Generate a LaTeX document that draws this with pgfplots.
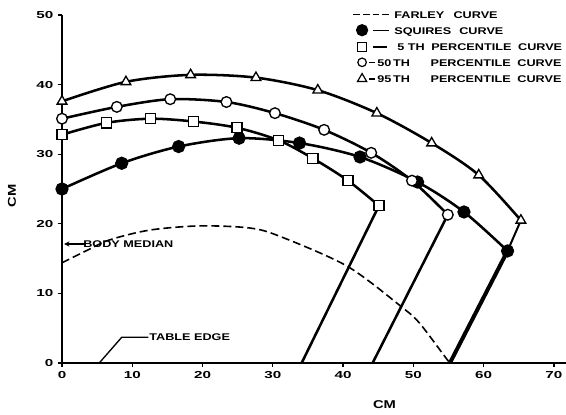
\documentclass[border=0pt]{standalone}
\usepackage{fontspec}
\setmainfont{Liberation Sans}[FakeStretch=1.3]
\newfontfamily\tickfont{Liberation Sans}[FakeStretch=1.5]
\usepackage{pgfplots}
\pgfplotsset{compat=1.18}
\usetikzlibrary{calc,arrows.meta}

\pgfplotstableread{
x y
0 14.4
3.6 16.2
6.8 17.7
12.5 19.1
19.6 19.7
26.7 19.4
31.0 18.2
40.6 13.9
48.4 8.0
50.9 5.7
54.5 0.9
55.2 0
}\farley

\pgfplotstableread{
x y
0 25.0
8.5 28.7
16.6 31.1
25.2 32.3
33.8 31.6
42.4 29.6
50.6 26.0
57.2 21.7
63.4 16.1
}\squires

\pgfplotstableread{
x y
0 32.8
6.3 34.5
12.6 35.1
18.7 34.7
24.9 33.8
30.8 32.0
35.7 29.4
40.7 26.2
45.1 22.6
}\fifth

\pgfplotstableread{
x y
0 35.1
7.8 36.8
15.4 37.9
23.4 37.5
30.3 35.9
37.3 33.5
44.0 30.2
49.8 26.2
54.9 21.3
}\fiftieth

\pgfplotstableread{
x y
0 37.6
9.1 40.4
18.3 41.4
27.6 41.0
36.4 39.2
44.8 35.9
52.6 31.6
59.3 27.0
65.3 20.5
}\ninetyfifth

\begin{document}
\begin{tikzpicture}
\begin{axis}[
  scale only axis, width=377.9pt, height=261pt,
  xmin=0, xmax=71.7, ymin=0, ymax=50,
  axis x line=bottom, axis y line=left,
  axis line style={-, line width=1.6pt},
  xtick={0,10,...,70}, ytick={0,10,...,50},
  tick align=outside, major tick length=3pt,
  tick style={line width=1pt, black},
  tick label style={font=\fontsize{7.6}{9}\selectfont\tickfont\bfseries},
  /pgf/number format/assume math mode=true,
  xlabel={CM}, ylabel={CM},
  label style={font=\fontsize{8.5}{10}\selectfont\bfseries},
  xlabel style={at={(rel axis cs:0.64,0)}, anchor=center, yshift=-31.5pt},
  ylabel style={at={(rel axis cs:0,0.48)}, anchor=center, yshift=37.5pt},
  clip=false,
  legend cell align=left,
  legend style={at={(0.574,1.014)}, anchor=north west, draw=none, fill=none,
    inner sep=0pt, row sep=4.3pt,
    font=\fontsize{7.3}{8}\selectfont\bfseries,
    nodes={inner sep=0pt, text height=6pt, text depth=0pt},
    /tikz/every even column/.append style={column sep=0pt},
    /tikz/every odd column/.append style={column sep=0pt}},
  every axis plot/.append style={line width=1.9pt, black},
]
\coordinate (o) at (axis cs:0,0);

\addplot[dash pattern=on 6pt off 3pt, line width=1.2pt, smooth,
  legend image code/.code={\path (-7pt,0) (23.25pt,0);
    \draw[line width=1.1pt, dash pattern=on 5pt off 2.2pt] (-6.5pt,0) -- (21.5pt,0);}]
  table[x=x,y=y] {\farley};
\addlegendentry{FARLEY\hspace{7pt}CURVE}

\addplot[smooth, tension=0.5, mark=*, mark size=4pt, mark options={solid, fill=black},
  legend image code/.code={\path (-7pt,0) (23.25pt,0);
    \draw[black, fill=black] (0,0) circle (3.6pt);
    \draw[line width=1pt] (8pt,0) -- (20pt,0);}]
  table[x=x,y=y] {\squires};
\addlegendentry{SQUIRES\hspace{6pt}CURVE}

\addplot[smooth, tension=0.5, mark=square*, mark size=3.8pt, mark options={solid, fill=white, line width=1pt},
  legend image code/.code={\path (-7pt,0) (23.25pt,0);
    \draw[line width=0.9pt, fill=white] (-3.2pt,-3.2pt) rectangle (3.2pt,3.2pt);
    \draw[line width=1pt] (8pt,0) -- (19pt,0);}]
  table[x=x,y=y] {\fifth};
\addlegendentry{\hspace*{2.25pt}5 TH\hspace{4.9pt}PERCENTILE\hspace{5pt}CURVE}

\addplot[smooth, tension=0.5, mark=*, mark size=4pt, mark options={solid, fill=white, line width=1pt},
  legend image code/.code={\path (-7pt,0) (23.25pt,0);
    \draw[line width=0.9pt, fill=white] (0,0) circle (3.2pt);
    \draw[line width=1pt] (5pt,0) -- (9.5pt,0);}]
  table[x=x,y=y] {\fiftieth};
\addlegendentry{\hspace*{-12.75pt}50\,TH\hspace{15.5pt}PERCENTILE\hspace{5pt}CURVE}

\addplot[smooth, tension=0.5, mark=triangle*, mark size=4.2pt, mark options={solid, fill=white, line width=1pt},
  legend image code/.code={\path (-7pt,0) (23.25pt,0);
    \draw[line width=0.9pt, fill=white] (90:4pt) -- (210:4pt) -- (330:4pt) -- cycle;
    \draw[line width=1pt] (5pt,0) -- (9.5pt,0);}]
  table[x=x,y=y] {\ninetyfifth};
\addlegendentry{\hspace*{-12.75pt}95\,TH\hspace{15.5pt}PERCENTILE\hspace{5pt}CURVE}

% connecting lines from curve ends to table edge
\addplot[forget plot, line width=1.9pt] coordinates {(45.1,22.6) (34.1,0)};
\addplot[forget plot, line width=1.9pt] coordinates {(54.9,21.3) (44.2,0)};
\addplot[forget plot, line width=1.5pt] coordinates {(65.3,20.5) (63.4,16.1)};
\addplot[forget plot, line width=3pt] coordinates {(63.4,16.1) (55.2,0)};

% annotations
\draw[-{Stealth[length=4pt,width=4pt]}, line width=1pt] (axis cs:3.4,17.1) -- (axis cs:0.3,17.1);
\node[anchor=west, inner sep=0pt, font=\fontsize{7.3}{8}\selectfont\bfseries] at (axis cs:3.0,17.1) {BODY\ MEDIAN};
\draw[line width=1pt] (axis cs:12.3,3.7) -- (axis cs:8.5,3.7) -- (axis cs:5.3,0);
\node[anchor=west, inner sep=0pt, font=\fontsize{7.3}{8}\selectfont\bfseries] at (axis cs:12.4,3.7) {TABLE\ EDGE};
\end{axis}
\pgfresetboundingbox
\path ($(o)+(-46.5pt,-38.25pt)$) rectangle ($(o)+(378pt,272.25pt)$);
\end{tikzpicture}
\end{document}
